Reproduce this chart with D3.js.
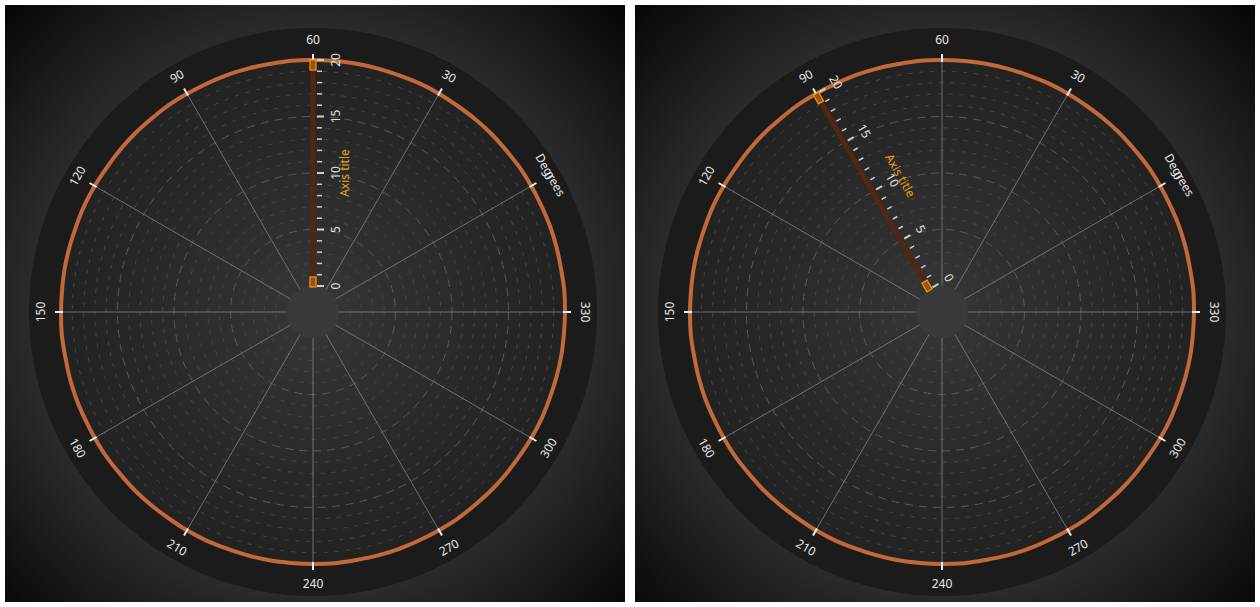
<!DOCTYPE html>
<html>
<head>
<meta charset="utf-8">
<script src="https://cdn.jsdelivr.net/npm/d3@7"></script>
<style>
html,body{margin:0;padding:0;background:#ffffff;}
svg{display:block;}
text{font-family:"Noto Sans","Open Sans",sans-serif;}
</style>
</head>
<body>
<svg id="chart" width="1260" height="607"></svg>
<script>
// ---- data ----
const angleTicks = [0, 30, 60, 90, 120, 150, 180, 210, 240, 270, 300, 330];
const angleTickLabels = ["0", "30", "60", "90", "120", "150", "180", "210", "240", "270", "300", "330"];
const angleAxisTitle = "Degrees";
const radialTicks = [0,1,2,3,4,5,6,7,8,9,10,11,12,13,14,15,16,17,18,19,20];
const radialTickLabels = [0, 5, 10, 15, 20];
const radialAxisTitle = "Axis title";
const seriesAngles = [0,5,10,15,20,25,30,35,40,45,50,55,60,65,70,75,80,85,90,95,100,105,110,115,120,125,130,135,140,145,150,155,160,165,170,175,
                      180,185,190,195,200,205,210,215,220,225,230,235,240,245,250,255,260,265,270,275,280,285,290,295,300,305,310,315,320,325,330,335,340,345,350,355];
const seriesValues = [20.0,20.02,19.99,20.01,20.0,19.98,20.01,20.02,19.99,20.0,20.01,19.99,20.0,20.02,19.98,20.0,20.01,19.99,20.0,20.02,19.99,20.01,20.0,19.98,20.01,20.02,19.99,20.0,20.01,19.99,20.0,20.02,19.98,20.0,20.01,19.99,
                      20.0,20.02,19.99,20.01,20.0,19.98,20.01,20.02,19.99,20.0,20.01,19.99,20.0,20.02,19.98,20.0,20.01,19.99,20.0,20.02,19.99,20.01,20.0,19.98,20.01,20.02,19.99,20.0,20.01,19.99,20.0,20.02,19.98,20.0,20.01,19.99];
const radialAxisAngles = [60, 90];   // where the radial axis sits in each panel

// ---- layout ----
const panels = [
  {x: 5, y: 5, w: 620, h: 597, cx: 313, cy: 312},
  {x: 635, y: 5, w: 620, h: 597, cx: 942, cy: 312}
];
const innerR = 26, plotR = 252, ringR = 284, labelR = 272;
const zeroDir = 60; // clockwise degrees from top where data angle 0 sits

const svg = d3.select("#chart");
const defs = svg.append("defs");

const r = d3.scaleLinear().domain([0, 20]).range([innerR, plotR]);
const ang = d3.scaleLinear().domain([0, 360]).range([zeroDir, zeroDir - 360]); // clockwise-from-top degrees
const rad = d => d * Math.PI / 180;
function pt(aDeg, radius, cx, cy) {
  const t = rad(ang(aDeg));
  return [cx + radius * Math.sin(t), cy - radius * Math.cos(t)];
}
function readable(rot) {
  rot = ((rot % 360) + 360) % 360;
  if (rot > 90 && rot < 270) rot -= 180;
  else if (rot >= 270) rot -= 360;
  return rot;
}

panels.forEach((p, i) => {
  const gid = "bg" + i, pid = "pa" + i;
  const bg = defs.append("radialGradient").attr("id", gid)
    .attr("gradientUnits", "userSpaceOnUse").attr("cx", p.cx).attr("cy", p.cy).attr("r", 440);
  bg.append("stop").attr("offset", 0).attr("stop-color", "#3a3a3a");
  bg.append("stop").attr("offset", 0.64).attr("stop-color", "#2b2b2b");
  bg.append("stop").attr("offset", 1).attr("stop-color", "#050505");
  const pg = defs.append("radialGradient").attr("id", pid)
    .attr("gradientUnits", "userSpaceOnUse").attr("cx", p.cx).attr("cy", p.cy).attr("r", plotR);
  pg.append("stop").attr("offset", 0).attr("stop-color", "#363636");
  pg.append("stop").attr("offset", 1).attr("stop-color", "#222222");

  svg.append("rect").attr("x", p.x).attr("y", p.y).attr("width", p.w).attr("height", p.h)
    .attr("fill", `url(#${gid})`);

  const g = svg.append("g");
  const cx = p.cx, cy = p.cy;

  g.append("circle").attr("cx", cx).attr("cy", cy).attr("r", ringR).attr("fill", "#1b1b1b");
  g.append("circle").attr("cx", cx).attr("cy", cy).attr("r", plotR).attr("fill", `url(#${pid})`);
  g.append("circle").attr("cx", cx).attr("cy", cy).attr("r", innerR).attr("fill", "#3a3a3a");

  // dashed concentric grid
  g.selectAll(".rc").data(radialTicks.filter(v => v > 0 && v < 20)).enter().append("circle")
    .attr("cx", cx).attr("cy", cy).attr("r", d => r(d)).attr("fill", "none")
    .attr("stroke", d => d % 5 === 0 ? "#5a5a5a" : "#474747")
    .attr("stroke-width", 1)
    .attr("stroke-dasharray", d => d % 5 === 0 ? "8,6" : "4,7");

  // radial grid lines
  g.selectAll(".sp").data(angleTicks).enter().append("line")
    .attr("x1", d => pt(d, innerR, cx, cy)[0]).attr("y1", d => pt(d, innerR, cx, cy)[1])
    .attr("x2", d => pt(d, plotR, cx, cy)[0]).attr("y2", d => pt(d, plotR, cx, cy)[1])
    .attr("stroke", "#8a8a8a").attr("stroke-opacity", 0.75).attr("stroke-width", 1);

  // series
  const line = d3.lineRadial()
    .angle((d, k) => rad(ang(seriesAngles[k])))
    .radius(d => r(d))
    .curve(d3.curveCardinalClosed);
  g.append("path").datum(seriesValues)
    .attr("transform", `translate(${cx},${cy})`)
    .attr("d", line).attr("fill", "none")
    .attr("stroke", "#c2683d").attr("stroke-width", 4);

  // outer angular ticks
  g.selectAll(".ot").data(angleTicks).enter().append("line")
    .attr("x1", d => pt(d, plotR - 2, cx, cy)[0]).attr("y1", d => pt(d, plotR - 2, cx, cy)[1])
    .attr("x2", d => pt(d, plotR + 6, cx, cy)[0]).attr("y2", d => pt(d, plotR + 6, cx, cy)[1])
    .attr("stroke", "#f0f0f0").attr("stroke-width", 2);

  // angular labels
  g.selectAll(".al").data(angleTicks).enter().append("text")
    .attr("transform", d => { const q = pt(d, labelR, cx, cy); return `translate(${q[0]},${q[1]}) rotate(${readable(ang(d))})`; })
    .attr("text-anchor", "middle").attr("dy", "0.35em")
    .attr("font-size", 12).attr("fill", "#e8e8e8")
    .text((d, k) => angleTickLabels[k]);
  {
    const q = pt(0, labelR + 2, cx, cy);
    g.append("text").attr("transform", `translate(${q[0]},${q[1]}) rotate(${readable(ang(0))})`)
      .attr("text-anchor", "middle").attr("dy", "0.35em")
      .attr("font-size", 12).attr("fill", "#e8e8e8").text(angleAxisTitle);
  }

  // radial axis
  const aA = radialAxisAngles[i];
  const dirDeg = ang(aA);
  const ax = g.append("g").attr("transform", `translate(${cx},${cy}) rotate(${dirDeg})`);
  // In this frame, outward is -y, tick side is +x
  ax.append("line").attr("x1", 0).attr("y1", -r(0)).attr("x2", 0).attr("y2", -r(20))
    .attr("stroke", "#522612").attr("stroke-width", 5);
  ax.selectAll(".rt").data(radialTicks).enter().append("line")
    .attr("x1", 4).attr("x2", d => d % 5 === 0 ? 11 : 9)
    .attr("y1", d => -r(d)).attr("y2", d => -r(d))
    .attr("stroke", "#cfcfcf").attr("stroke-width", d => d % 5 === 0 ? 2 : 1.5);
  ax.append("rect").attr("x", -3).attr("y", -r(0) - 9).attr("width", 6).attr("height", 10)
    .attr("fill", "#9a5010").attr("stroke", "#f39a10").attr("stroke-width", 1.2);
  ax.append("rect").attr("x", -3).attr("y", -r(20)).attr("width", 6).attr("height", 10)
    .attr("fill", "#9a5010").attr("stroke", "#f39a10").attr("stroke-width", 1.2);
  const lr = readable(dirDeg - 90) - (dirDeg);
  ax.selectAll(".rl").data(radialTickLabels).enter().append("text")
    .attr("transform", d => `translate(23,${-r(d)}) rotate(${lr})`)
    .attr("text-anchor", "middle").attr("dy", "0.35em")
    .attr("font-size", 12).attr("fill", "#e2e2e2").text(d => d);
  ax.append("text")
    .attr("transform", `translate(32,${-r(10)}) rotate(${lr})`)
    .attr("text-anchor", "middle").attr("dy", "0.35em")
    .attr("font-size", 12).attr("fill", "#e6a21e").text(radialAxisTitle);
});
</script>
</body>
</html>
